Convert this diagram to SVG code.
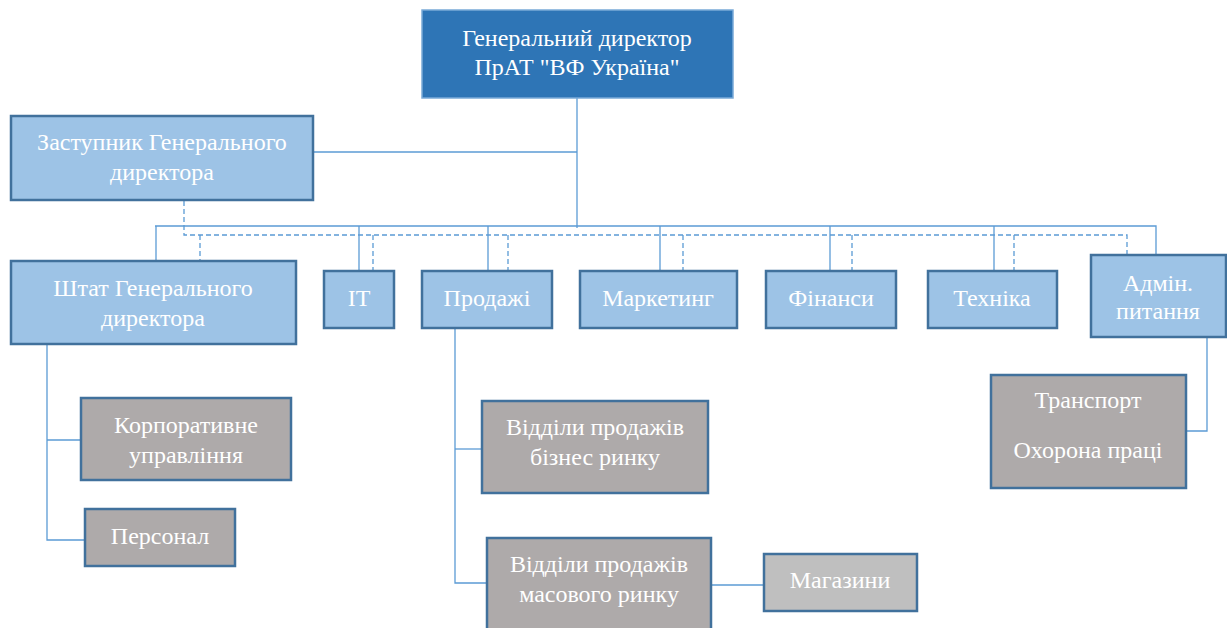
<svg xmlns="http://www.w3.org/2000/svg" width="1227" height="628" viewBox="0 0 1227 628">
<style>
.top{fill:#2E75B6;stroke:#7AAAD8;stroke-width:1.5}
.blue{fill:#9DC3E6;stroke:#41719C;stroke-width:2.5}
.gray{fill:#AEAAAA;stroke:#41719C;stroke-width:2.5}
.lgray{fill:#BFBFBF;stroke:#41719C;stroke-width:2.5}
.t{font-size:24px;fill:#FFFFFF;text-anchor:middle}
.c{fill:none;stroke:#5B9BD5;stroke-width:1.3}
.d{fill:none;stroke:#5B9BD5;stroke-width:1.3;stroke-dasharray:5 3}
</style>
<rect width="1227" height="628" fill="#FFFFFF"/>
<g id="connectors">
<path class="c" d="M577 98V228"/>
<path class="c" d="M313 152H577"/>
<path class="c" d="M155 226H1156V256"/>
<path class="c" d="M156 226V261"/>
<path class="c" d="M359 226V271"/>
<path class="c" d="M488 226V271"/>
<path class="c" d="M660 226V271"/>
<path class="c" d="M830 226V271"/>
<path class="c" d="M994 226V271"/>
<path class="d" d="M184 201V235H1127V256"/>
<path class="d" d="M200 235V261"/>
<path class="d" d="M373 235V271"/>
<path class="d" d="M508 235V271"/>
<path class="d" d="M683 235V271"/>
<path class="d" d="M852 235V271"/>
<path class="d" d="M1014 235V271"/>
<path class="c" d="M47 344V540H85"/>
<path class="c" d="M47 440H81"/>
<path class="c" d="M455 328V583H487"/>
<path class="c" d="M455 449H482"/>
<path class="c" d="M711 585H764"/>
<path class="c" d="M1207 337V431H1187"/>
</g>
<g font-family="Liberation Serif, DejaVu Serif, serif">
<g id="gen-director"><rect class="top" x="422" y="10" width="311" height="88"/><text class="t" x="577" y="46">Генеральний директор</text><text class="t" x="577" y="75">ПрАТ "ВФ Україна"</text></g>
<g id="deputy"><rect class="blue" x="11" y="116" width="302" height="84"/><text class="t" x="162" y="150">Заступник Генерального</text><text class="t" x="162" y="180">директора</text></g>
<g id="staff"><rect class="blue" x="11" y="261" width="285" height="83"/><text class="t" x="153" y="296">Штат Генерального</text><text class="t" x="153" y="326">директора</text></g>
<g id="it"><rect class="blue" x="324" y="271" width="70" height="57"/><text class="t" x="359" y="306">IT</text></g>
<g id="sales"><rect class="blue" x="422" y="271" width="130" height="57"/><text class="t" x="487" y="306">Продажі</text></g>
<g id="marketing"><rect class="blue" x="580" y="271" width="157" height="57"/><text class="t" x="658" y="306">Маркетинг</text></g>
<g id="finance"><rect class="blue" x="766" y="271" width="130" height="57"/><text class="t" x="831" y="306">Фінанси</text></g>
<g id="tech"><rect class="blue" x="928" y="271" width="129" height="57"/><text class="t" x="992" y="306">Техніка</text></g>
<g id="admin"><rect class="blue" x="1091" y="255" width="135" height="82"/><text class="t" x="1158" y="291">Адмін.</text><text class="t" x="1158" y="319">питання</text></g>
<g id="corporate"><rect class="gray" x="81" y="398" width="210" height="82"/><text class="t" x="186" y="433">Корпоративне</text><text class="t" x="186" y="463">управління</text></g>
<g id="personnel"><rect class="gray" x="85" y="509" width="150" height="57"/><text class="t" x="160" y="544">Персонал</text></g>
<g id="business-sales"><rect class="gray" x="482" y="401" width="226" height="92"/><text class="t" x="595" y="435">Відділи продажів</text><text class="t" x="595" y="465">бізнес ринку</text></g>
<g id="mass-sales"><rect class="gray" x="487" y="538" width="224" height="95"/><text class="t" x="599" y="572">Відділи продажів</text><text class="t" x="599" y="602">масового ринку</text></g>
<g id="shops"><rect class="lgray" x="764" y="554" width="153" height="57"/><text class="t" x="840" y="588">Магазини</text></g>
<g id="transport"><rect class="gray" x="991" y="375" width="195" height="113"/><text class="t" x="1088" y="408">Транспорт</text><text class="t" x="1088" y="458">Охорона праці</text></g>
</g>
</svg>
